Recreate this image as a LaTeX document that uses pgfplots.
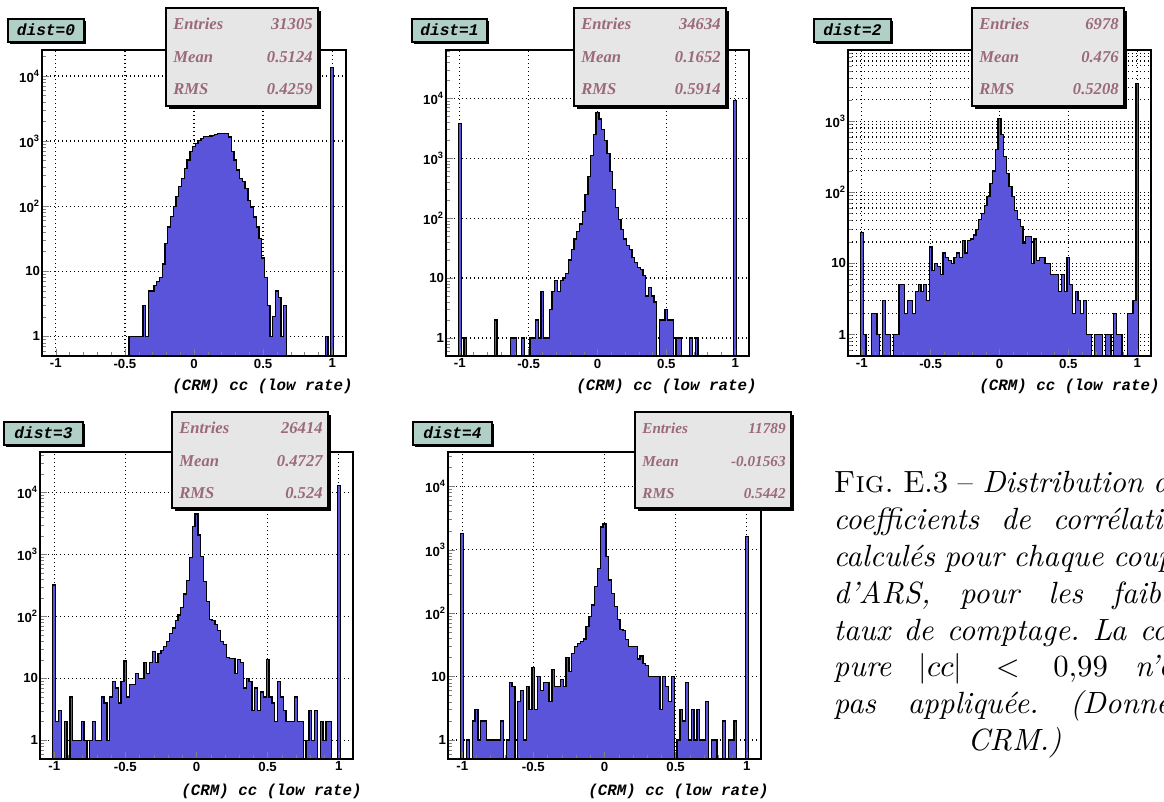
\documentclass[border=0pt]{standalone}
\usepackage{fontspec}
\usepackage{pgfplots}
\usepackage{pgfplotstable}
\pgfplotsset{compat=1.18}

\newfontfamily\rootsans{Liberation Sans}
\newfontfamily\rootmono{Liberation Mono}
\newfontfamily\rootserif{Liberation Serif}

\definecolor{histblue}{RGB}{89,84,217}
\definecolor{statfill}{RGB}{230,230,230}
\definecolor{titlefill}{RGB}{176,207,199}
\definecolor{stattext}{RGB}{155,106,122}

\newcommand\ticklabfont{\rootsans\bfseries\fontsize{6.6}{7}\selectfont}
\newcommand\titlefont{\rootmono\bfseries\itshape\fontsize{8.1}{10}\selectfont}

% bin centre c, entries n (bin width 0.02)
\pgfplotstableread[row sep=\\]{
c n\\
-0.46 0\\ -0.46 1\\ -0.44 1\\ -0.42 1\\ -0.40 1\\ -0.38 1\\ -0.36 3\\ -0.34 1\\
-0.32 5\\ -0.30 5\\ -0.28 6\\ -0.26 7\\ -0.24 8\\ -0.22 13\\ -0.20 27\\ -0.18 48\\
-0.16 69\\ -0.14 98\\ -0.12 139\\ -0.10 198\\ -0.08 268\\ -0.06 380\\ -0.04 510\\ -0.02 685\\
0.00 815\\ 0.02 920\\ 0.04 1010\\ 0.06 1090\\ 0.08 1170\\ 0.10 1170\\ 0.12 1200\\ 0.14 1230\\
0.16 1250\\ 0.18 1290\\ 0.20 1320\\ 0.22 1290\\ 0.24 1320\\ 0.26 1150\\ 0.28 685\\ 0.30 510\\
0.32 360\\ 0.34 268\\ 0.36 237\\ 0.38 187\\ 0.40 123\\ 0.42 97\\ 0.44 68\\ 0.46 48\\
0.48 32\\ 0.50 16\\ 0.52 8\\ 0.54 3\\ 0.56 1\\ 0.58 2\\ 0.60 5\\ 0.62 4\\ 0.64 1\\ 0.66 3\\
0.68 0\\ 0.70 0\\ 0.72 0\\ 0.74 0\\ 0.76 0\\ 0.78 0\\ 0.80 0\\ 0.82 0\\ 0.84 0\\ 0.86 0\\
0.88 0\\ 0.90 0\\ 0.92 0\\ 0.94 0\\ 0.96 1\\ 0.98 0\\ 1.00 13300\\ 1.02 0\\
}\distzero

\pgfplotstableread[row sep=\\]{
c n\\
-1.00 0\\ -1.00 3800\\ -0.98 0\\ -0.96 1\\ -0.94 0\\ -0.92 0\\ -0.90 0\\ -0.88 0\\ -0.86 0\\
-0.84 0\\ -0.82 0\\ -0.80 0\\ -0.78 0\\ -0.76 0\\ -0.74 2\\ -0.72 0\\ -0.70 0\\ -0.68 0\\
-0.66 0\\ -0.64 0\\ -0.62 1\\ -0.60 1\\ -0.58 0\\ -0.56 0\\ -0.54 1\\ -0.52 0\\ -0.50 0\\
-0.48 1\\ -0.46 1\\ -0.44 2\\ -0.42 1\\ -0.40 6\\ -0.38 1\\ -0.36 1\\ -0.34 3\\ -0.32 6\\
-0.30 9\\ -0.28 6\\ -0.26 9\\ -0.24 10\\ -0.22 12\\ -0.20 20\\ -0.18 30\\ -0.16 45\\
-0.14 60\\ -0.12 80\\ -0.10 130\\ -0.08 250\\ -0.06 500\\ -0.04 1100\\ -0.02 2500\\
0.00 5800\\ 0.02 4500\\ 0.04 3000\\ 0.06 2000\\ 0.08 1200\\ 0.10 600\\ 0.12 300\\
0.14 150\\ 0.16 95\\ 0.18 65\\ 0.20 45\\ 0.22 35\\ 0.24 30\\ 0.26 22\\ 0.28 18\\
0.30 15\\ 0.32 14\\ 0.34 11\\ 0.36 5\\ 0.38 7\\ 0.40 5\\ 0.42 4\\ 0.44 0\\ 0.46 2\\
0.48 2\\ 0.50 3\\ 0.52 2\\ 0.54 2\\ 0.56 0\\ 0.58 1\\ 0.60 1\\ 0.62 0\\ 0.64 0\\ 0.66 0\\
0.68 1\\ 0.70 0\\ 0.72 1\\ 0.74 0\\ 0.76 0\\ 0.78 0\\ 0.80 0\\ 0.82 0\\ 0.84 0\\ 0.86 0\\
0.88 0\\ 0.90 0\\ 0.92 0\\ 0.94 0\\ 0.96 0\\ 0.98 0\\ 1.00 9300\\ 1.02 0\\
}\distone

\pgfplotstableread[row sep=\\]{
c n\\
-1.00 0\\ -1.00 27\\ -0.98 1\\ -0.96 0\\ -0.94 0\\ -0.92 2\\ -0.90 2\\ -0.88 1\\ -0.86 0\\
-0.84 3\\ -0.82 1\\ -0.80 1\\ -0.78 0\\ -0.76 1\\ -0.74 1\\ -0.72 5\\ -0.70 5\\ -0.68 2\\
-0.66 3\\ -0.64 3\\ -0.62 2\\ -0.60 4\\ -0.58 5\\ -0.56 4\\ -0.54 5\\ -0.52 3\\ -0.50 17\\
-0.48 8\\ -0.46 10\\ -0.44 9\\ -0.42 7\\ -0.40 14\\ -0.38 12\\ -0.36 11\\ -0.34 10\\
-0.32 12\\ -0.30 14\\ -0.28 12\\ -0.26 21\\ -0.24 14\\ -0.22 21\\ -0.20 22\\ -0.18 25\\
-0.16 30\\ -0.14 41\\ -0.12 50\\ -0.10 65\\ -0.08 88\\ -0.06 133\\ -0.04 200\\ -0.02 400\\
0.00 1090\\ 0.02 650\\ 0.04 315\\ 0.06 185\\ 0.08 120\\ 0.10 88\\ 0.12 55\\ 0.14 41\\
0.16 33\\ 0.18 19\\ 0.20 24\\ 0.22 24\\ 0.24 10\\ 0.26 22\\ 0.28 11\\ 0.30 12\\ 0.32 12\\
0.34 10\\ 0.36 10\\ 0.38 7\\ 0.40 7\\ 0.42 7\\ 0.44 4\\ 0.46 7\\ 0.48 4\\ 0.50 12\\
0.52 5\\ 0.54 2\\ 0.56 4\\ 0.58 3\\ 0.60 2\\ 0.62 3\\ 0.64 1\\ 0.66 1\\ 0.68 0\\ 0.70 1\\
0.72 1\\ 0.74 1\\ 0.76 0\\ 0.78 1\\ 0.80 1\\ 0.82 0\\ 0.84 2\\ 0.86 1\\ 0.88 1\\ 0.90 0\\
0.92 0\\ 0.94 2\\ 0.96 2\\ 0.98 3\\ 1.00 3380\\ 1.02 0\\
}\disttwo

\pgfplotstableread[row sep=\\]{
c n\\
-1.00 0\\ -1.00 320\\ -0.98 2\\ -0.96 3\\ -0.94 0\\ -0.92 2\\ -0.90 0\\ -0.88 5\\ -0.86 1\\
-0.84 1\\ -0.82 1\\ -0.80 2\\ -0.78 1\\ -0.76 0\\ -0.74 1\\ -0.72 2\\ -0.70 1\\ -0.68 1\\
-0.66 5\\ -0.64 4\\ -0.62 1\\ -0.60 5\\ -0.58 9\\ -0.56 7\\ -0.54 4\\ -0.52 9\\ -0.50 19\\
-0.48 5\\ -0.46 8\\ -0.44 8\\ -0.42 12\\ -0.40 10\\ -0.38 10\\ -0.36 18\\ -0.34 12\\
-0.32 18\\ -0.30 27\\ -0.28 18\\ -0.26 25\\ -0.24 28\\ -0.22 33\\ -0.20 39\\ -0.18 53\\
-0.16 65\\ -0.14 85\\ -0.12 105\\ -0.10 140\\ -0.08 230\\ -0.06 380\\ -0.04 900\\ -0.02 2800\\
0.00 4470\\ 0.02 2060\\ 0.04 920\\ 0.06 365\\ 0.08 174\\ 0.10 88\\ 0.12 85\\ 0.14 75\\
0.16 60\\ 0.18 39\\ 0.20 35\\ 0.22 22\\ 0.24 21\\ 0.26 21\\ 0.28 12\\ 0.30 20\\ 0.32 18\\
0.34 7\\ 0.36 10\\ 0.38 9\\ 0.40 3\\ 0.42 7\\ 0.44 3\\ 0.46 6\\ 0.48 5\\ 0.50 20\\
0.52 5\\ 0.54 4\\ 0.56 2\\ 0.58 9\\ 0.60 5\\ 0.62 3\\ 0.64 2\\ 0.66 2\\ 0.68 2\\ 0.70 5\\
0.72 2\\ 0.74 2\\ 0.76 0\\ 0.78 1\\ 0.80 3\\ 0.82 1\\ 0.84 3\\ 0.86 0\\ 0.88 2\\ 0.90 1\\
0.92 2\\ 0.94 2\\ 0.96 0\\ 0.98 0\\ 1.00 12800\\ 1.02 0\\
}\distthree

\pgfplotstableread[row sep=\\]{
c n\\
-1.00 0\\ -1.00 1800\\ -0.98 0\\ -0.96 1\\ -0.94 0\\ -0.92 2\\ -0.90 3\\ -0.88 1\\ -0.86 2\\
-0.84 2\\ -0.82 1\\ -0.80 1\\ -0.78 1\\ -0.76 1\\ -0.74 1\\ -0.72 2\\ -0.70 0\\ -0.68 1\\
-0.66 8\\ -0.64 7\\ -0.62 0\\ -0.60 4\\ -0.58 6\\ -0.56 1\\ -0.54 7\\ -0.52 3\\ -0.50 14\\
-0.48 3\\ -0.46 10\\ -0.44 6\\ -0.42 8\\ -0.40 8\\ -0.38 4\\ -0.36 13\\ -0.34 7\\
-0.32 7\\ -0.30 9\\ -0.28 7\\ -0.26 20\\ -0.24 12\\ -0.22 23\\ -0.20 30\\ -0.18 33\\
-0.16 36\\ -0.14 39\\ -0.12 61\\ -0.10 88\\ -0.08 135\\ -0.06 265\\ -0.04 510\\ -0.02 2300\\
0.00 2560\\ 0.02 780\\ 0.04 335\\ 0.06 205\\ 0.08 127\\ 0.10 79\\ 0.12 56\\ 0.14 54\\
0.16 38\\ 0.18 30\\ 0.20 30\\ 0.22 30\\ 0.24 19\\ 0.26 21\\ 0.28 16\\ 0.30 15\\ 0.32 10\\
0.34 10\\ 0.36 10\\ 0.38 10\\ 0.40 3\\ 0.42 10\\ 0.44 7\\ 0.46 4\\ 0.48 10\\ 0.50 0\\
0.52 1\\ 0.54 3\\ 0.56 2\\ 0.58 8\\ 0.60 1\\ 0.62 3\\ 0.64 1\\ 0.66 3\\ 0.68 1\\ 0.70 1\\
0.72 4\\ 0.74 0\\ 0.76 1\\ 0.78 1\\ 0.80 0\\ 0.82 0\\ 0.84 2\\ 0.86 0\\ 0.88 1\\ 0.90 1\\
0.92 2\\ 0.94 0\\ 0.96 0\\ 0.98 0\\ 1.00 1620\\ 1.02 0\\
}\distfour

\pgfplotsset{
  rootbase/.style={
    scale only axis,
    xmin=-1.1, xmax=1.1, ymin=0.5,
    axis line style={line width=0.75pt},
    tick align=inside, tick pos=left,
    major tick length=3.5pt, minor tick length=2pt,
    xtick={-1,-0.5,0,0.5,1},
    xticklabels={-1,-0.5,0,0.5,1},
    minor x tick num=4,
    ytick={1,10,100,1000,10000},
    yticklabels={1,10,10\textsuperscript{2},10\textsuperscript{3},10\textsuperscript{4}},
    minor ytick={0.6,0.7,0.8,0.9,2,3,4,5,6,7,8,9,20,30,40,50,60,70,80,90,
      200,300,400,500,600,700,800,900,2000,3000,4000,5000,6000,7000,8000,9000,
      20000,30000,40000,50000,60000},
    tick label style={font=\ticklabfont},
    xticklabel style={inner sep=1.2pt},
    yticklabel style={inner sep=0.8pt},
  },
  % under-layer: grid and histogram only; ticks and labels come from the overlay axis
  rootgrid/.style={
    xmajorgrids, ymajorgrids,
    major grid style={black, line width=0.6pt, dash pattern=on 0.6pt off 1.4pt},
    minor grid style={black, line width=0.6pt, dash pattern=on 0.6pt off 1.4pt},
    major tick length=0pt, minor tick length=0pt,
    xticklabels={,,,,}, yticklabels={,,,,},
  },
  roothist/.style={const plot, mark=none, fill=histblue, draw=black, line width=0.65pt},
  panelA/.style={at={(21pt,-178pt)}, anchor=south west, width=152pt, height=153pt, ymax=2.5e4},
  panelB/.style={at={(223pt,-178pt)}, anchor=south west, width=151.5pt, height=153pt, ymax=6.4e4},
  panelC/.style={at={(424pt,-178pt)}, anchor=south west, width=151.5pt, height=153pt, ymax=1e4,
    ytick={1,10,100,1000}},
  panelCl/.style={yticklabels={1,10,10\textsuperscript{2},10\textsuperscript{3}}},
  panelD/.style={at={(20pt,-379.5pt)}, anchor=south west, width=156.5pt, height=153.5pt, ymax=4.5e4},
  panelE/.style={at={(224pt,-379.5pt)}, anchor=south west, width=156.5pt, height=153.5pt, ymax=3.5e4},
}

% boxes in pixel units (scope with x=0.5pt, y=-0.5pt)
\newcommand\statbox[8]{%
  \fill[black] (#1+3,#2+3) rectangle (#3+3,#4+3);
  \filldraw[fill=statfill, draw=black, line width=0.7pt] (#1,#2) rectangle (#3,#4);
  \begin{scope}[every node/.style={inner sep=0pt, text=stattext, font=\rootserif\bfseries\itshape\fontsize{#8}{10}\selectfont}]
    \node[anchor=base west] at (#1+7,#2+22) {Entries};
    \node[anchor=base east] at (#3-5,#2+22) {#5};
    \node[anchor=base west] at (#1+7,#2+55) {Mean};
    \node[anchor=base east] at (#3-5,#2+55) {#6};
    \node[anchor=base west] at (#1+7,#2+87) {RMS};
    \node[anchor=base east] at (#3-5,#2+87) {#7};
  \end{scope}}
\newcommand\titlebox[5]{%
  \fill[black] (#1+2,#2+2) rectangle (#3+2,#4+2);
  \filldraw[fill=titlefill, draw=black, line width=0.7pt] (#1,#2) rectangle (#3,#4);
  \node[inner sep=0pt, anchor=base, font=\titlefont] at ({(#1+#3)/2},#2+17) {#5};}
\newcommand\xlab[2]{%
  \node[inner sep=0pt, anchor=base east, font=\rootmono\bfseries\itshape\fontsize{7.9}{9}\selectfont] at (#1,#2) {(CRM) cc (low rate)};}

\begin{document}
\begin{tikzpicture}
\useasboundingbox (0,0) rectangle (582pt,-401pt);

% dist=0
\begin{semilogyaxis}[rootbase, rootgrid, panelA]
\addplot[roothist] table[x expr=\thisrow{c}-0.01, y expr={max(\thisrow{n},0.01)}] {\distzero};
\end{semilogyaxis}
\begin{semilogyaxis}[rootbase, panelA]
\end{semilogyaxis}

% dist=1
\begin{semilogyaxis}[rootbase, rootgrid, panelB]
\addplot[roothist] table[x expr=\thisrow{c}-0.01, y expr={max(\thisrow{n},0.01)}] {\distone};
\end{semilogyaxis}
\begin{semilogyaxis}[rootbase, panelB]
\end{semilogyaxis}

% dist=2
\begin{semilogyaxis}[rootbase, rootgrid, panelC, yminorgrids]
\addplot[roothist] table[x expr=\thisrow{c}-0.01, y expr={max(\thisrow{n},0.01)}] {\disttwo};
\end{semilogyaxis}
\begin{semilogyaxis}[rootbase, panelC, panelCl]
\end{semilogyaxis}

% dist=3
\begin{semilogyaxis}[rootbase, rootgrid, panelD]
\addplot[roothist] table[x expr=\thisrow{c}-0.01, y expr={max(\thisrow{n},0.01)}] {\distthree};
\end{semilogyaxis}
\begin{semilogyaxis}[rootbase, panelD]
\end{semilogyaxis}

% dist=4
\begin{semilogyaxis}[rootbase, rootgrid, panelE]
\addplot[roothist] table[x expr=\thisrow{c}-0.01, y expr={max(\thisrow{n},0.01)}] {\distfour};
\end{semilogyaxis}
\begin{semilogyaxis}[rootbase, panelE]
\end{semilogyaxis}

\begin{scope}[x=0.5pt, y=-0.5pt]
  \titlebox{8}{19}{84}{42}{dist=0}
  \titlebox{412}{19}{487}{42}{dist=1}
  \titlebox{814}{19}{891}{42}{dist=2}
  \titlebox{4}{422}{83}{445}{dist=3}
  \titlebox{413}{422}{492}{445}{dist=4}

  \statbox{166}{8}{318}{106}{31305}{0.5124}{0.4259}{8.3}
  \statbox{574}{8}{726}{106}{34634}{0.1652}{0.5914}{8.3}
  \statbox{972}{8}{1124}{106}{6978}{0.476}{0.5208}{8.3}
  \statbox{172}{412}{328}{508}{26414}{0.4727}{0.524}{8.3}
  \statbox{635}{412}{791}{508}{11789}{-0.01563}{0.5442}{7.6}

  \xlab{353}{391}
  \xlab{757}{391}
  \xlab{1160}{391}
  \xlab{362}{795}
  \xlab{769}{795}

  \node[anchor=base west, inner sep=0pt, scale=1.535] at (833,492.7) {%
    \parbox[t]{117.9pt}{\fontsize{10}{12}\selectfont\frenchspacing\parfillskip=0pt
      \textsc{Fig.}~E.3 -- \textit{Distribution des\linebreak
      coefficients de corrélation\linebreak
      calculés pour chaque couple\linebreak
      d’ARS, pour les faibles\linebreak
      taux de comptage. La cou-\linebreak
      pure $|cc| < 0{,}99$ n’est\linebreak
      pas appliquée. (Données}\par
      \centering\textit{CRM.)}\par}};
\end{scope}
\end{tikzpicture}
\end{document}
